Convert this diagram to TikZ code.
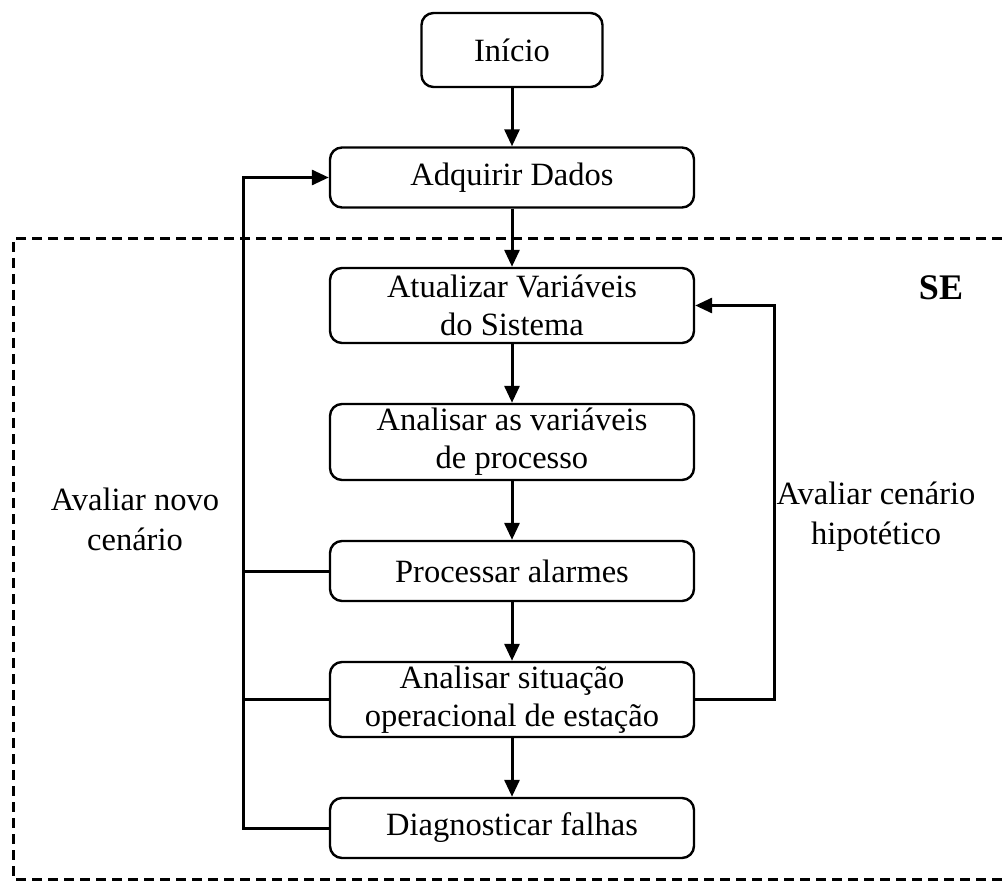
\documentclass[tikz,border=0pt]{standalone}
\usepackage{fontspec}
\setmainfont{Liberation Serif}
\usetikzlibrary{arrows.meta}
\begin{document}
\begin{tikzpicture}[x=1pt,y=-1pt,
  box/.style={draw,line width=2.4pt,rounded corners=12pt,minimum width=364pt,align=center,inner sep=0pt,font=\fontsize{32.5}{38}\selectfont},
  onebox/.style={box,minimum height=60pt},
  twobox/.style={box,minimum height=75pt},
  conn/.style={line width=3pt},
  arr/.style={conn,-{Triangle[length=17pt,width=15pt]}},
  lbl/.style={align=center,font=\fontsize{32.5}{40}\selectfont}]
\useasboundingbox (0,0) rectangle (1002,893);
\draw[line width=3pt,dash pattern=on 10pt off 6pt] (1002,239) -- (13,239) -- (13,879) -- (1002,879);
\node[box,minimum width=181pt,minimum height=74pt] (ini) at (512,50) {Início};
\node[onebox] (adq) at (512,177.5) {Adquirir Dados};
\node[twobox] (atu) at (512,305.5) {Atualizar Variáveis\\do Sistema};
\node[twobox,minimum height=76pt] (ana) at (512,442) {Analisar as variáveis\\de processo};
\node[onebox] (proc) at (512,571) {Processar alarmes};
\node[twobox] (sit) at (512,699.5) {Analisar situação\\operacional de estação};
\node[onebox] (diag) at (512,828) {Diagnosticar falhas};
\coordinate (lx) at (243,0);
\coordinate (rx) at (774,0);
\draw[arr] (ini) -- (adq);
\draw[arr] (adq) -- (atu);
\draw[arr] (atu) -- (ana);
\draw[arr] (ana) -- (proc);
\draw[arr] (proc) -- (sit);
\draw[arr] (sit) -- (diag);
\draw[arr] (diag.west) -- (diag.west -| lx) |- (adq.west);
\draw[conn] (proc.west) -- (proc.west -| lx);
\draw[conn] (sit.west) -- (sit.west -| lx);
\draw[arr] (sit.east) -- (sit.east -| rx) |- (atu.east);
\node[lbl] (lnew) at (135,519) {Avaliar novo\\cenário};
\node[lbl] (lhyp) at (876,517) {Avaliar cenário\\hipotético};
\node[font=\fontsize{36}{40}\selectfont\bfseries] (se) at (941,288) {SE};
\end{tikzpicture}
\end{document}
